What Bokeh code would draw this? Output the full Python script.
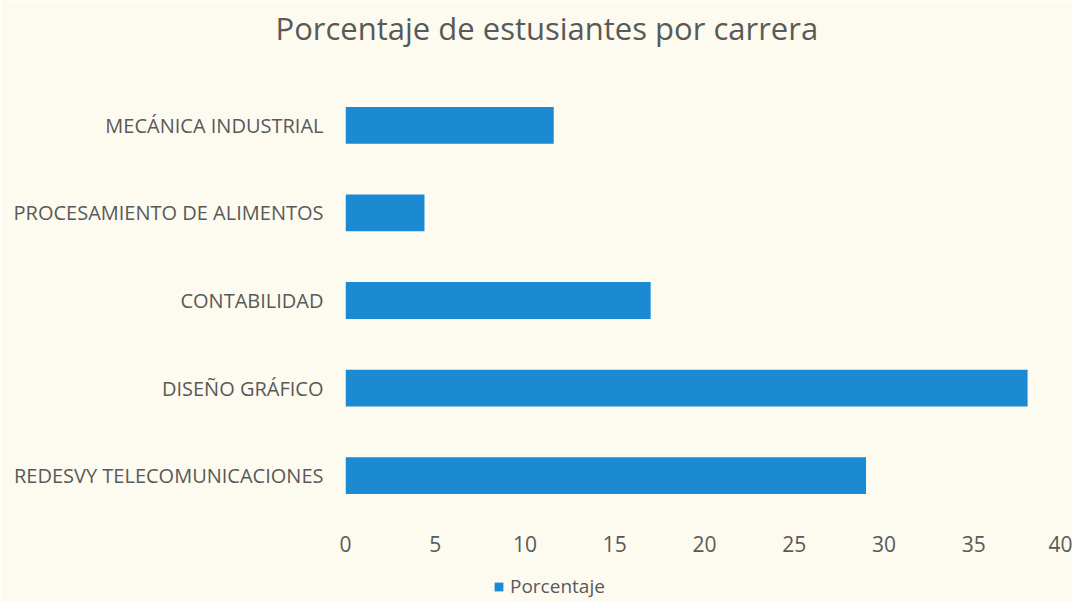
from bokeh.plotting import figure
from bokeh.layouts import column
from bokeh.models import FactorRange, Range1d, Legend, LegendItem, FixedTicker, Title
from bokeh.embed import file_html
from bokeh.resources import INLINE

categories = ["MECÁNICA INDUSTRIAL", "PROCESAMIENTO DE ALIMENTOS", "CONTABILIDAD",
              "DISEÑO GRÁFICO", "REDESVY TELECOMUNICACIONES"]
porcentaje = [11.6, 4.4, 17, 38, 29]
x_ticks = [0, 5, 10, 15, 20, 25, 30, 35, 40]
series_name = "Porcentaje"

BG = "#fdfbf0"
TXT = "#595959"
BAR = "#1b8ad3"
FONT = "Open Sans"

p = figure(width=1072, height=572, output_backend="svg", toolbar_location=None,
           y_range=FactorRange(factors=list(reversed(categories))),
           x_range=Range1d(0, 40),
           min_border_left=345, min_border_right=9, min_border_top=81, min_border_bottom=53)
p.title = None
# thin spacer between the title and the plot frame
spacer = Title(text=" ", text_font_size="1px", standoff=22, text_color=BG)
p.add_layout(spacer, "above")
t = Title(text="Porcentaje de estusiantes por carrera", align="left", offset=-70,
          vertical_align="top",
          text_font=FONT, text_font_size="31px", text_color=TXT, text_font_style="normal",
          standoff=12)
p.add_layout(t, "above")

p.background_fill_color = BG
p.border_fill_color = BG
p.outline_line_color = None

r = p.hbar(y=categories, right=porcentaje, left=0, height=0.42, color=BAR, line_color=None)

p.xgrid.grid_line_color = None
p.ygrid.grid_line_color = None

for ax in (p.xaxis, p.yaxis):
    ax.axis_line_color = None
    ax.major_tick_line_color = None
    ax.minor_tick_line_color = None
    ax.major_label_text_color = TXT
    ax.major_label_text_font = FONT
p.xaxis.ticker = FixedTicker(ticks=x_ticks)
p.xaxis.major_label_text_font_size = "21px"
p.xaxis.major_label_standoff = 10
p.yaxis.major_label_text_font_size = "20px"
p.yaxis.major_label_standoff = 16

# legend strip below the chart (frames of a column are aligned)
p2 = figure(width=1072, height=30, output_backend="svg", toolbar_location=None,
            x_range=Range1d(0, 40), y_range=FactorRange(factors=list(reversed(categories))),
            min_border_left=0, min_border_right=0, min_border_top=0, min_border_bottom=0)
p2.axis.visible = False
p2.grid.visible = False
p2.outline_line_color = None
p2.background_fill_color = BG
p2.border_fill_color = BG
# proxy renderer for the legend swatch, kept invisible in this strip
r2 = p2.hbar(y=categories, right=porcentaje, left=0, height=0.42, color=BAR,
             line_color=None, visible=False)
legend = Legend(items=[LegendItem(label=series_name, renderers=[r2])],
                orientation="horizontal", location=(148, 3),
                label_text_font=FONT, label_text_font_size="19px", label_text_color=TXT,
                background_fill_alpha=0, border_line_color=None,
                inactive_fill_alpha=0,
                glyph_width=11, glyph_height=11, label_standoff=6, padding=0, margin=0)
p2.add_layout(legend, "center")

layout = column(p, p2, spacing=0)
open("out.html", "w").write(file_html(layout, INLINE))
